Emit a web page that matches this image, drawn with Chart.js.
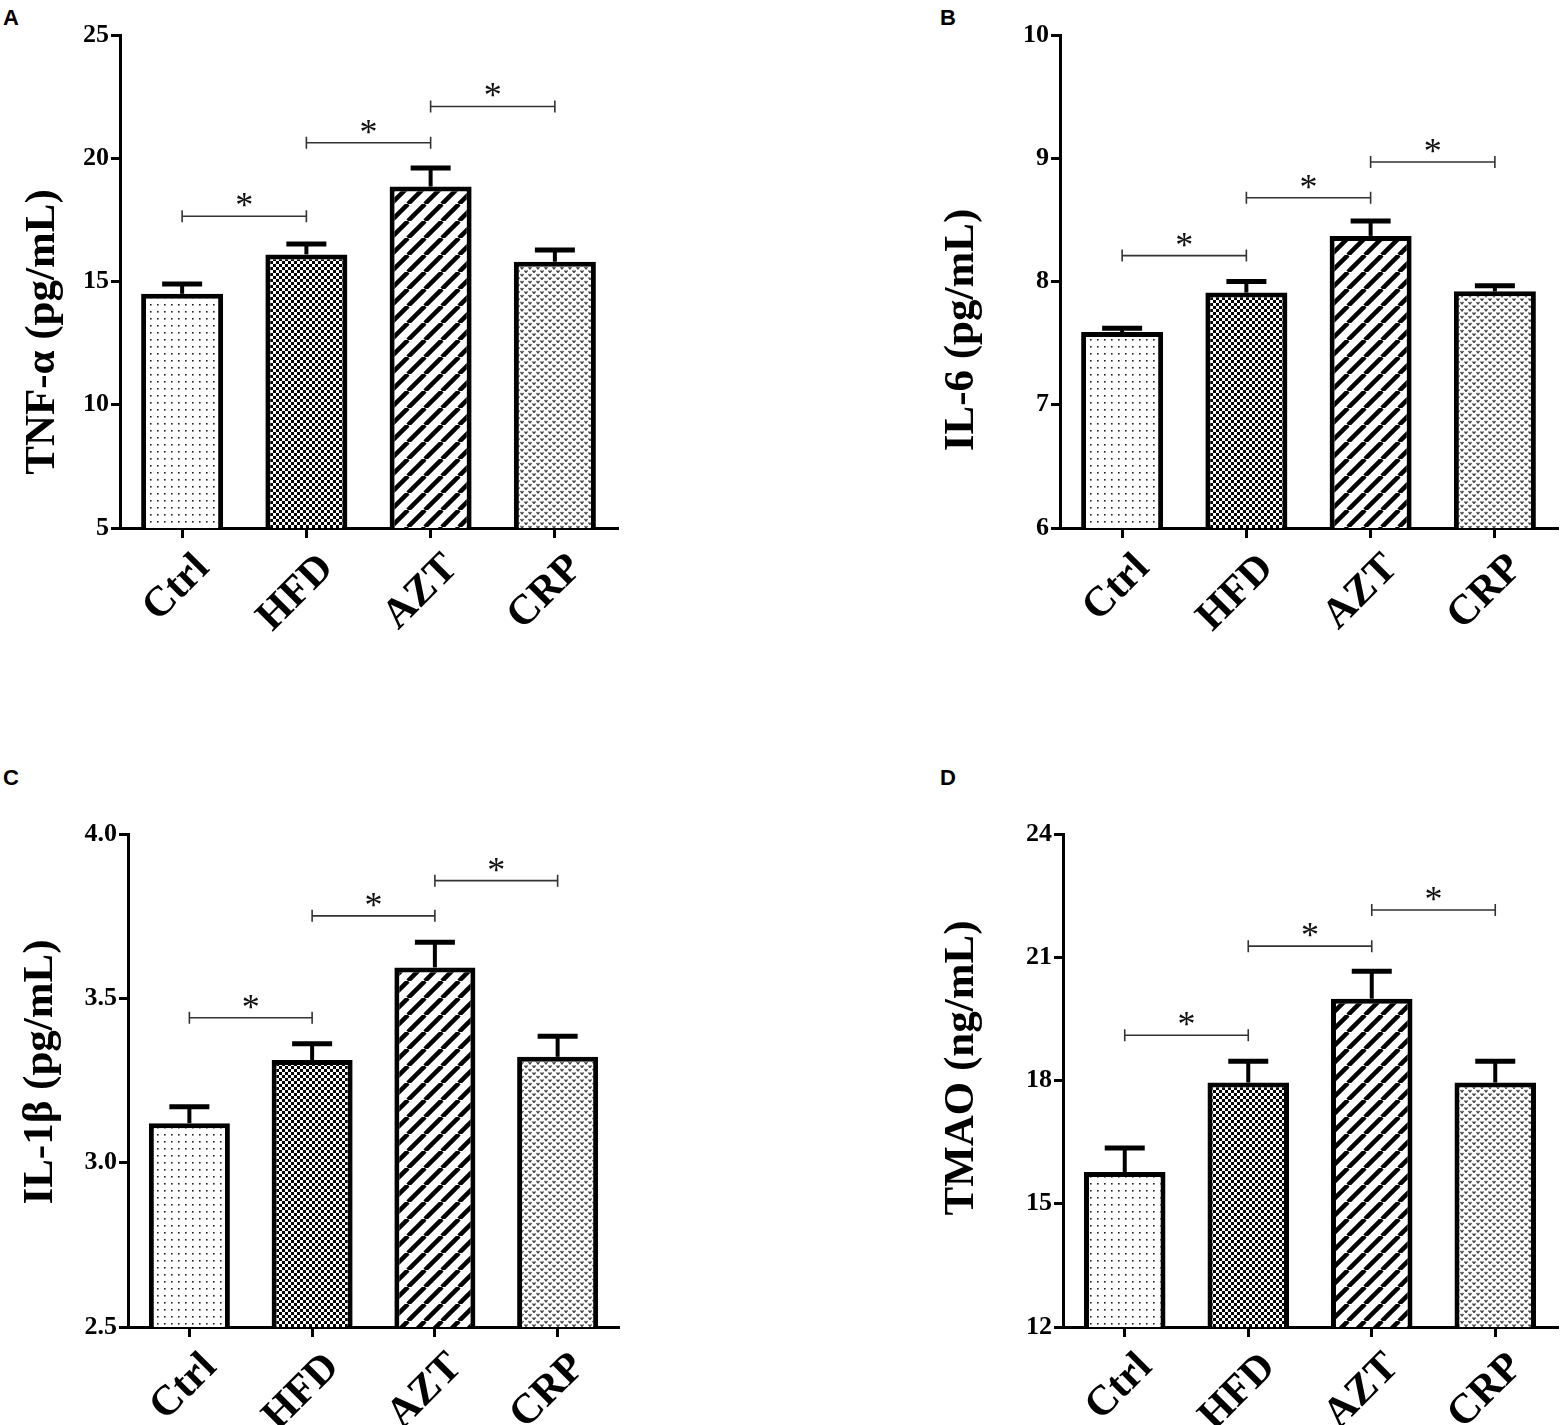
<!DOCTYPE html>
<html>
<head>
<meta charset="utf-8">
<script src="https://cdn.jsdelivr.net/npm/chart.js@4.4.0/dist/chart.umd.min.js"></script>
<style>
body { margin: 0; background: #fff; width: 1560px; height: 1425px; overflow: hidden; position: relative; }
canvas { position: absolute; }
.letter { position: absolute; font: bold 22px "Liberation Sans", Arial, sans-serif; line-height: 22px; color: #000; }
</style>
</head>
<body>
<div class="letter" style="left:3px;top:7px">A</div>
<div class="letter" style="left:940px;top:7px">B</div>
<div class="letter" style="left:3px;top:767px">C</div>
<div class="letter" style="left:940px;top:767px">D</div>

<canvas id="chartA" width="620" height="700" style="left:0px;top:0px"></canvas>
<canvas id="chartB" width="620" height="700" style="left:940px;top:0px"></canvas>
<canvas id="chartC" width="620" height="665" style="left:0px;top:760px"></canvas>
<canvas id="chartD" width="620" height="665" style="left:940px;top:760px"></canvas>

<script>
var groups = ['Ctrl', 'HFD', 'AZT', 'CRP'];
var pairs = [[0, 1], [1, 2], [2, 3]];

// A - TNF-a
var tnfMean = [14.5, 16.1, 18.85, 15.8];
var tnfSem = [0.4, 0.42, 0.75, 0.48];
var tnfBracket = [17.65, 20.63, 22.1];
var tnfTicks = [5, 10, 15, 20, 25];

// B - IL-6
var il6Mean = [7.59, 7.91, 8.37, 7.92];
var il6Sem = [0.03, 0.09, 0.12, 0.045];
var il6Bracket = [8.21, 8.68, 8.97];
var il6Ticks = [6, 7, 8, 9, 10];

// C - IL-1b
var il1bMean = [3.12, 3.312, 3.594, 3.322];
var il1bSem = [0.05, 0.05, 0.077, 0.063];
var il1bBracket = [3.441, 3.751, 3.858];
var il1bTicks = [2.5, 3.0, 3.5, 4.0];

// D - TMAO
var tmaoMean = [15.77, 17.95, 19.99, 17.95];
var tmaoSem = [0.59, 0.52, 0.67, 0.52];
var tmaoBracket = [19.1, 21.27, 22.15];
var tmaoTicks = [12, 15, 18, 21, 24];

var SERIF = '"Liberation Serif", "Times New Roman", serif';

function makePattern(w, h, draw) {
    var c = document.createElement('canvas');
    c.width = w;
    c.height = h;
    var g = c.getContext('2d');
    g.fillStyle = '#fff';
    g.fillRect(0, 0, w, h);
    draw(g);
    return g.createPattern(c, 'repeat');
}

var dotFill = makePattern(7, 7, function (g) {
    g.fillStyle = '#222';
    g.fillRect(3, 3, 1.6, 1.6);
});
var checkFill = makePattern(6, 6, function (g) {
    g.fillStyle = '#000';
    g.fillRect(3, 0, 3, 3);
    g.fillRect(0, 3, 3, 3);
});
var stripeFill = makePattern(17, 17, function (g) {
    g.strokeStyle = '#000';
    g.lineWidth = 4.5;
    [-17, 0, 17].forEach(function (o) {
        g.beginPath();
        g.moveTo(o, 17);
        g.lineTo(o + 17, 0);
        g.stroke();
    });
});
var veeFill = makePattern(8, 7, function (g) {
    g.strokeStyle = '#444';
    g.lineWidth = 1.3;
    function vee(x, y) {
        g.beginPath();
        g.moveTo(x, y);
        g.lineTo(x + 1.5, y + 2);
        g.lineTo(x + 3, y);
        g.stroke();
    }
    vee(0.5, 1);
    vee(4.5, 4.5);
});

function buildChart(id, title, means, sems, ticks, brackets, box, titleAt, decimals) {
    var canvas = document.getElementById(id);

    var extras = {
        id: 'extras_' + id,
        afterDatasetsDraw: function (chart) {
            var ctx = chart.ctx, x = chart.scales.x, y = chart.scales.y;
            var meta = chart.getDatasetMeta(0);
            ctx.save();
            ctx.strokeStyle = '#000';
            ctx.lineCap = 'butt';
            // error bars (mean + SEM)
            meta.data.forEach(function (bar, i) {
                var top = y.getPixelForValue(means[i] + sems[i]);
                ctx.lineWidth = 4;
                ctx.beginPath();
                ctx.moveTo(bar.x, bar.y);
                ctx.lineTo(bar.x, top);
                ctx.stroke();
                ctx.lineWidth = 5;
                ctx.beginPath();
                ctx.moveTo(bar.x - 20, top);
                ctx.lineTo(bar.x + 20, top);
                ctx.stroke();
            });
            // significance brackets
            ctx.strokeStyle = '#333';
            ctx.fillStyle = '#111';
            ctx.lineWidth = 1.6;
            ctx.font = '36px ' + SERIF;
            ctx.textAlign = 'center';
            ctx.textBaseline = 'alphabetic';
            pairs.forEach(function (p, k) {
                var x1 = x.getPixelForValue(p[0]);
                var x2 = x.getPixelForValue(p[1]);
                var yy = y.getPixelForValue(brackets[k]);
                ctx.beginPath();
                ctx.moveTo(x1, yy);
                ctx.lineTo(x2, yy);
                ctx.moveTo(x1, yy - 6);
                ctx.lineTo(x1, yy + 6);
                ctx.moveTo(x2, yy - 6);
                ctx.lineTo(x2, yy + 6);
                ctx.stroke();
                ctx.fillText('*', (x1 + x2) / 2, yy + 1);
            });
            ctx.restore();
        },
        afterDraw: function (chart) {
            var ctx = chart.ctx;
            ctx.save();
            ctx.translate(titleAt[0], titleAt[1]);
            ctx.rotate(-Math.PI / 2);
            ctx.font = 'bold 43px ' + SERIF;
            ctx.fillStyle = '#000';
            ctx.textAlign = 'center';
            ctx.textBaseline = 'middle';
            ctx.fillText(title, 0, 0);
            ctx.restore();
        }
    };

    return new Chart(canvas, {
        type: 'bar',
        data: {
            labels: groups,
            datasets: [{
                data: means,
                backgroundColor: [dotFill, checkFill, stripeFill, veeFill],
                borderColor: '#000',
                borderWidth: 5,
                borderSkipped: false,
                barPercentage: 0.66,
                categoryPercentage: 1
            }]
        },
        options: {
            responsive: false,
            animation: false,
            devicePixelRatio: 1,
            layout: { padding: { top: box.top, right: canvas.width - box.right, left: 0, bottom: 0 } },
            plugins: { legend: { display: false }, tooltip: { enabled: false } },
            scales: {
                x: {
                    grid: { display: true, drawOnChartArea: false, offset: false, tickLength: 10, lineWidth: 3, color: '#000' },
                    border: { display: true, width: 3, color: '#000' },
                    ticks: {
                        maxRotation: 45, minRotation: 45, padding: 6, labelOffset: 21,
                        color: '#000', font: { family: SERIF, size: 42, weight: 'bold' }
                    },
                    afterFit: function (scale) { scale.height = canvas.height - box.bottom; }
                },
                y: {
                    min: ticks[0],
                    max: ticks[ticks.length - 1],
                    grid: { display: true, drawOnChartArea: false, tickLength: 9, lineWidth: 3, color: '#000' },
                    border: { display: true, width: 3, color: '#000' },
                    ticks: {
                        stepSize: ticks[1] - ticks[0],
                        padding: 2,
                        color: '#000',
                        font: { family: SERIF, size: 26, weight: 'bold' },
                        callback: function (v) { return v.toFixed(decimals); }
                    },
                    afterFit: function (scale) { scale.width = box.left; }
                }
            }
        },
        plugins: [extras]
    });
}

buildChart('chartA', 'TNF-\u03b1 (pg/mL)', tnfMean, tnfSem, tnfTicks, tnfBracket,
    { left: 120, top: 35, right: 617, bottom: 528 }, [43, 332], 0);
buildChart('chartB', 'IL-6 (pg/mL)', il6Mean, il6Sem, il6Ticks, il6Bracket,
    { left: 120, top: 35, right: 617, bottom: 528 }, [22, 330], 0);
buildChart('chartC', 'IL-1\u03b2 (pg/mL)', il1bMean, il1bSem, il1bTicks, il1bBracket,
    { left: 128, top: 74, right: 619, bottom: 567 }, [41, 312], 1);
buildChart('chartD', 'TMAO (ng/mL)', tmaoMean, tmaoSem, tmaoTicks, tmaoBracket,
    { left: 123, top: 74, right: 617, bottom: 567 }, [22, 308], 0);
</script>
</body>
</html>
